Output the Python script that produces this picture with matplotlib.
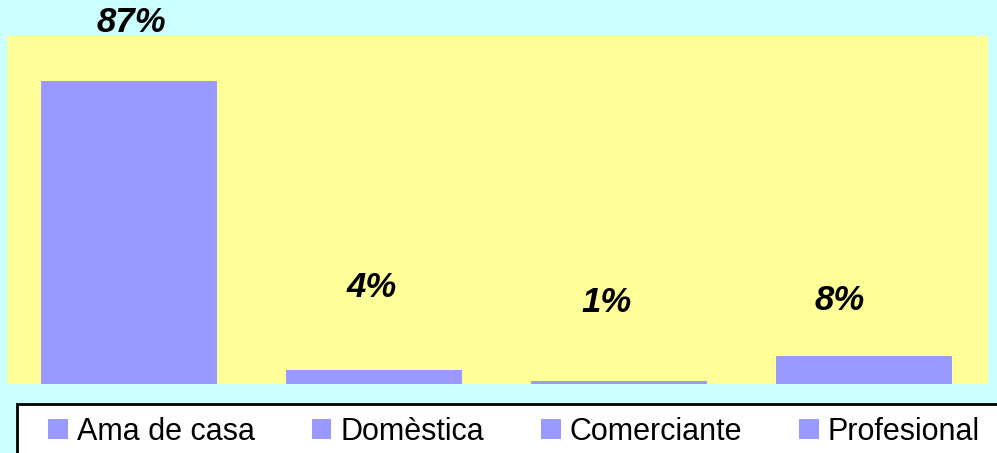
import numpy as np
import matplotlib.pyplot as plt
from matplotlib.patches import Patch, Rectangle

# Occupation shares (%)
categories = ['Ama de casa', 'Domèstica', 'Comerciante', 'Profesional']
values = [87, 4, 1, 8]
labels = ['87%', '4%', '1%', '8%']

# Where each percentage label sits (data units)
label_y = [103.8, 27.8, 23.3, 24.0]
label_dx = [0.01, -0.01, -0.05, -0.10]

bg_color = '#CCFFFF'
plot_color = '#FFFF99'
bar_color = '#9999FF'

plt.rcParams['font.family'] = ['Liberation Sans', 'DejaVu Sans']

W, H = 997, 453
fig = plt.figure(figsize=(W / 100, H / 100), dpi=100, facecolor=bg_color)
ax = fig.add_axes([7 / W, 69 / H, 981 / W, 348 / H])
ax.set_facecolor(plot_color)

x = np.arange(len(categories))
ax.bar(x, values, width=0.718, color=bar_color)
ax.set_xlim(-0.498, 3.506)
ax.set_ylim(0, 100)

for xi, ly, dx, txt in zip(x, label_y, label_dx, labels):
    ax.text(xi + dx, ly, txt, ha='center', va='center', fontsize=25,
            fontweight='bold', fontstyle='italic', clip_on=False)

ax.set_xticks([])
ax.set_yticks([])
for s in ax.spines.values():
    s.set_visible(False)

# Legend box runs off the right and bottom edges
fig.patches.append(Rectangle((17 / W, -20 / H), 1000 / W, 69 / H,
                             transform=fig.transFigure, facecolor='white',
                             edgecolor='black', linewidth=2, zorder=1))

handles = [Patch(facecolor=bar_color, edgecolor='none') for _ in categories]
leg = fig.legend(handles, categories, loc='center left',
                 bbox_to_anchor=(48 / W, 21 / H), ncol=4, frameon=False,
                 fontsize=22, handlelength=0.65, handleheight=0.65,
                 handletextpad=0.29, columnspacing=1.86,
                 borderpad=0, borderaxespad=0)
leg.set_zorder(2)

fig.savefig('out.png', dpi=100, facecolor=bg_color)
